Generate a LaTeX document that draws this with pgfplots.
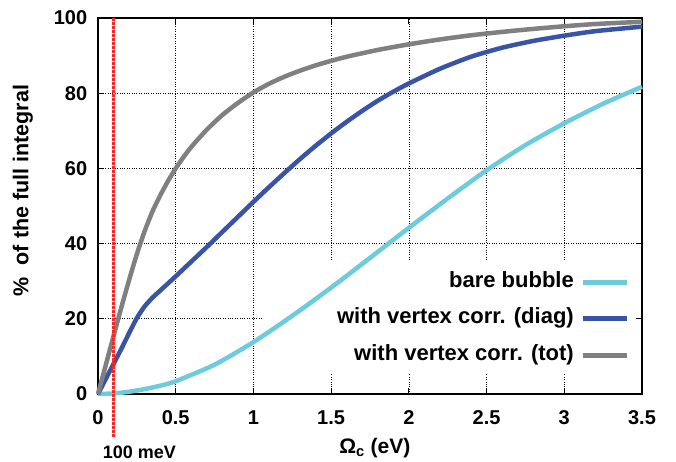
\documentclass[border=0pt]{standalone}
\usepackage{fontspec}
\setmainfont{Liberation Sans}
\usepackage{pgfplots}
\pgfplotsset{compat=1.18}

\definecolor{barecol}{HTML}{6CCCDC}
\definecolor{diagcol}{HTML}{3A54A5}
\definecolor{totcol}{HTML}{808080}
\definecolor{mevcol}{HTML}{EE2A2A}

\begin{document}
\fontsize{20}{24}\selectfont\bfseries
\begin{tikzpicture}
\useasboundingbox (-98pt,-67pt) rectangle (578pt,394pt);
\begin{axis}[
  at={(0,0)}, anchor=south west,
  scale only axis, width=544pt, height=376pt,
  xmin=0, xmax=3.5, ymin=0, ymax=100,
  xtick={0,0.5,1,1.5,2,2.5,3,3.5},
  ytick={0,20,40,60,80,100},
  grid=major,
  grid style={black, dotted, line width=0.7pt},
  tick align=inside,
  major tick length=6pt,
  every tick/.style={black, line width=1.2pt},
  axis line style={black, line width=1.5pt},
  clip=false,
  /pgf/number format/assume math mode=true,
  ticklabel style={font=\fontsize{20}{24}\selectfont\bfseries},
  xticklabel style={yshift=-10pt},
  yticklabel style={xshift=-4pt},
  xlabel={Ω\textsubscript{c} (eV)},
  xlabel style={at={(axis description cs:0.509,-0.157)}, anchor=base,
    inner sep=0pt, font=\fontsize{21}{24}\selectfont\bfseries},
  ylabel={\%\ \ of the full integral},
  ylabel style={at={(axis description cs:-0.138,0.541)}, anchor=center,
    font=\fontsize{21.5}{24}\selectfont\bfseries},
  legend plot pos=right,
  legend cell align=right,
  legend image code/.code={\draw[#1, line width=5pt] (0pt,0pt) -- (44pt,0pt);},
  legend style={at={(axis description cs:0.978,0.2)}, anchor=east,
    draw=none, fill=none, inner sep=0pt, row sep=16.5pt, column sep=7pt,
    font=\fontsize{22}{24}\selectfont\bfseries,
    nodes={inner sep=0pt, text height=15pt, text depth=5pt}},
]
% opaque key box hides the grid, curves stay on top
\fill[white] (axis cs:1.055,5.6) rectangle (axis cs:3.45,35.1);

\addplot[barecol, line width=4.5pt, smooth, tension=0.4] coordinates {
 (0,0) (0.1,0.15) (0.2,0.6) (0.3,1.3) (0.4,2.2) (0.5,3.4) (0.75,7.8)
 (1.0,13.8) (1.25,20.8) (1.5,28.3) (1.75,36.2) (2.0,44.2) (2.25,52)
 (2.5,59.5) (2.75,66.2) (3.0,72) (3.25,77.2) (3.5,81.7)};
\addlegendentry{bare bubble}

\addplot[diagcol, line width=4.5pt, smooth, tension=0.4] coordinates {
 (0,0) (0.05,4) (0.1,8) (0.15,12) (0.2,16.2) (0.25,20.2) (0.3,23.3)
 (0.35,25.6) (0.4,27.5) (0.45,29.4) (0.5,31.3) (0.6,35.2) (0.7,39.1)
 (0.8,43.1) (0.9,47.1) (1.0,51.1) (1.1,55) (1.2,58.8) (1.3,62.5)
 (1.4,66) (1.5,69.3) (1.6,72.4) (1.7,75.3) (1.8,78) (1.9,80.4)
 (2.0,82.6) (2.2,86.5) (2.4,89.7) (2.6,92.1) (2.8,93.9) (3.0,95.3)
 (3.2,96.5) (3.5,97.7)};
\addlegendentry{with vertex corr. (diag)}

\addplot[totcol, line width=4.5pt, smooth, tension=0.4] coordinates {
 (0,0) (0.05,7.7) (0.1,15.4) (0.15,23) (0.2,30.3) (0.25,37.2) (0.3,43.3)
 (0.35,48.5) (0.4,52.8) (0.45,56.6) (0.5,60) (0.55,63) (0.6,65.7)
 (0.7,70.3) (0.8,74.2) (0.9,77.4) (1.0,80.2) (1.1,82.5) (1.2,84.4)
 (1.3,86) (1.4,87.4) (1.5,88.6) (1.6,89.7) (1.8,91.5) (2.0,93)
 (2.2,94.3) (2.4,95.4) (2.6,96.3) (2.8,97.1) (3.0,97.8) (3.2,98.4)
 (3.5,99.0)};
\addlegendentry{with vertex corr. (tot)}

% 100 meV marker
\addplot[mevcol, line width=2.5pt, dash pattern=on 2.5pt off 1.5pt, forget plot]
  coordinates {(0.1,-11.4) (0.1,100)};
\node[anchor=west, font=\fontsize{18}{20}\selectfont\bfseries]
  at (axis cs:0,0) [xshift=-2pt, yshift=-58pt] {100 meV};
\end{axis}
\end{tikzpicture}
\end{document}
